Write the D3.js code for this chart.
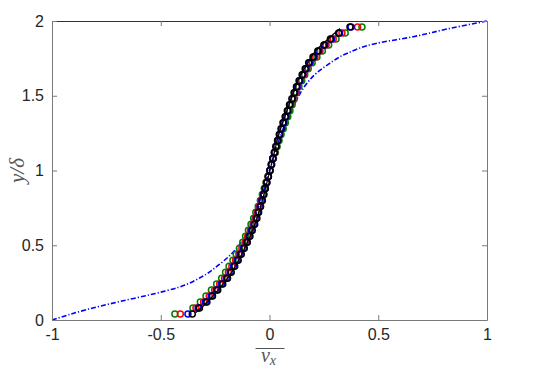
<!DOCTYPE html>
<html>
<head>
<meta charset="utf-8">
<script src="https://cdn.jsdelivr.net/npm/d3@7"></script>
<style>
  body { margin: 0; background: #fff; }
  svg { display: block; }
</style>
</head>
<body>
<div id="chart"></div>
<script>
// row heights shared by the four marker series
var yLevels = [0.04, 0.08, 0.12, 0.16, 0.20, 0.24, 0.28, 0.32, 0.36, 0.40,
  0.44, 0.48, 0.52, 0.56, 0.60, 0.64, 0.68, 0.72, 0.76, 0.80,
  0.84, 0.88, 0.92, 0.96, 1.00, 1.04, 1.08, 1.12, 1.16, 1.20,
  1.24, 1.28, 1.32, 1.36, 1.40, 1.44, 1.48, 1.52, 1.56, 1.60,
  1.64, 1.68, 1.72, 1.76, 1.80, 1.84, 1.88, 1.92, 1.96];

var greenX = [-0.435, -0.352, -0.318, -0.292, -0.267, -0.243, -0.220, -0.202, -0.186, -0.168,
  -0.153, -0.138, -0.123, -0.110, -0.097, -0.085, -0.073, -0.063, -0.052, -0.042,
  -0.033, -0.024, -0.016, -0.007, 0.002, 0.010, 0.018, 0.027, 0.035, 0.044,
  0.053, 0.063, 0.073, 0.084, 0.094, 0.104, 0.114, 0.124, 0.135, 0.148,
  0.162, 0.178, 0.196, 0.218, 0.243, 0.272, 0.306, 0.348, 0.425];

var redX = [-0.410, -0.338, -0.303, -0.277, -0.252, -0.229, -0.207, -0.189, -0.173, -0.156,
  -0.141, -0.127, -0.112, -0.100, -0.088, -0.076, -0.066, -0.056, -0.046, -0.037,
  -0.029, -0.021, -0.014, -0.006, 0.002, 0.009, 0.016, 0.024, 0.032, 0.040,
  0.049, 0.058, 0.067, 0.078, 0.087, 0.097, 0.108, 0.118, 0.129, 0.142,
  0.156, 0.171, 0.188, 0.209, 0.232, 0.260, 0.293, 0.333, 0.405];

var blueX = [-0.375, -0.328, -0.295, -0.268, -0.244, -0.221, -0.199, -0.181, -0.165, -0.149,
  -0.135, -0.120, -0.106, -0.094, -0.082, -0.071, -0.061, -0.052, -0.043, -0.035,
  -0.027, -0.020, -0.013, -0.005, 0.002, 0.009, 0.016, 0.023, 0.031, 0.039,
  0.047, 0.056, 0.065, 0.075, 0.085, 0.095, 0.106, 0.116, 0.127, 0.139,
  0.153, 0.168, 0.184, 0.204, 0.226, 0.254, 0.285, 0.322, 0.375];

var blackX = [-0.355, -0.322, -0.288, -0.262, -0.238, -0.215, -0.193, -0.176, -0.160, -0.144,
  -0.130, -0.116, -0.102, -0.090, -0.079, -0.068, -0.058, -0.050, -0.041, -0.033,
  -0.026, -0.019, -0.012, -0.005, 0.002, 0.008, 0.015, 0.022, 0.029, 0.037,
  0.045, 0.053, 0.062, 0.072, 0.082, 0.092, 0.103, 0.113, 0.124, 0.136,
  0.150, 0.164, 0.180, 0.200, 0.222, 0.250, 0.280, 0.318, 0.370];

// solid black reference line
var lineY = [0.05, 0.10, 0.20, 0.30, 0.40, 0.50, 0.60, 0.70, 0.80, 0.90, 1.00,
  1.10, 1.20, 1.30, 1.40, 1.50, 1.60, 1.70, 1.80, 1.90, 1.95];
var lineX = [-0.338, -0.300, -0.236, -0.183, -0.142, -0.108, -0.078, -0.053, -0.033, -0.015, 0.002,
  0.019, 0.035, 0.056, 0.080, 0.105, 0.130, 0.168, 0.212, 0.285, 0.324];

// blue dash-dot curve
var curveX = [-1, -0.847, -0.693, -0.540, -0.418, -0.310, -0.234, -0.172, -0.140, -0.100,
  -0.065, -0.030, 0, 0.028, 0.052, 0.082, 0.110, 0.135, 0.165, 0.215, 0.270, 0.355, 0.490, 0.661, 0.815, 1];
var curveY = [0, 0.067, 0.122, 0.172, 0.219, 0.290, 0.368, 0.446, 0.500, 0.590,
  0.700, 0.850, 1.000, 1.130, 1.240, 1.340, 1.430, 1.500, 1.570, 1.650, 1.710, 1.783, 1.850, 1.895, 1.946, 2];

var xTicks = [-1, -0.5, 0, 0.5, 1];
var yTicks = [0, 0.5, 1, 1.5, 2];

var W = 540, H = 373;
var plot = {left: 52, right: 487, top: 21, bottom: 320};

var x = d3.scaleLinear().domain([-1, 1]).range([plot.left, plot.right]);
var y = d3.scaleLinear().domain([0, 2]).range([plot.bottom, plot.top]);

var svg = d3.select('#chart').append('svg')
    .attr('width', W)
    .attr('height', H);

var axisColor = '#262626';
var fmt = function(d) { return d3.format('')(d).replace('\u2212', '-'); };

var line = d3.line()
    .x(function(d) { return x(d[0]); })
    .y(function(d) { return y(d[1]); })
    .curve(d3.curveMonotoneY);

// blue curve
svg.append('path')
    .datum(d3.zip(curveX, curveY))
    .attr('d', line)
    .attr('fill', 'none')
    .attr('stroke', '#0000ff')
    .attr('stroke-width', 1.6)
    .attr('stroke-dasharray', '5,2,1.2,2');

// markers
var series = [
  {xs: greenX, color: '#008000'},
  {xs: redX, color: '#ff0000'},
  {xs: blueX, color: '#0000ff'},
  {xs: blackX, color: '#000000'}
];

series.forEach(function(s) {
  svg.append('g').selectAll('circle')
      .data(d3.zip(s.xs, yLevels))
    .enter().append('circle')
      .attr('cx', function(d) { return x(d[0]); })
      .attr('cy', function(d) { return y(d[1]); })
      .attr('r', 3)
      .attr('fill', 'none')
      .attr('stroke', s.color)
      .attr('stroke-width', 1.5);
});

svg.append('path')
    .datum(d3.zip(lineX, lineY))
    .attr('d', line)
    .attr('fill', 'none')
    .attr('stroke', '#000')
    .attr('stroke-width', 1.2);

// axes
var axB = svg.append('g').attr('transform', 'translate(0,' + plot.bottom + ')')
    .call(d3.axisBottom(x).tickValues(xTicks).tickSizeInner(-5).tickSizeOuter(0).tickPadding(9).tickFormat(fmt));
var axT = svg.append('g').attr('transform', 'translate(0,' + plot.top + ')')
    .call(d3.axisTop(x).tickValues(xTicks).tickSizeInner(-5).tickSizeOuter(0).tickFormat(''));
var axL = svg.append('g').attr('transform', 'translate(' + plot.left + ',0)')
    .call(d3.axisLeft(y).tickValues(yTicks).tickSizeInner(-5).tickSizeOuter(0).tickPadding(8).tickFormat(fmt));
var axR = svg.append('g').attr('transform', 'translate(' + plot.right + ',0)')
    .call(d3.axisRight(y).tickValues(yTicks).tickSizeInner(-5).tickSizeOuter(0).tickFormat(''));

[axB, axT, axL, axR].forEach(function(a) {
  a.select('.domain').attr('stroke', '#7a7a7a').attr('stroke-width', 1);
  a.selectAll('.tick line').attr('stroke', '#7a7a7a').attr('stroke-width', 1);
  a.selectAll('.tick text')
      .attr('fill', axisColor)
      .style('font', '16px "Liberation Sans", Arial, sans-serif');
});
axT.select('.domain').attr('stroke', '#333');

// axis labels
svg.append('text')
    .attr('transform', 'translate(24,' + ((plot.top + plot.bottom) / 2) + ') rotate(-90)')
    .attr('text-anchor', 'middle')
    .attr('fill', '#555')
    .style('font', 'italic 21px "Liberation Serif", "DejaVu Serif", serif')
    .text('y/δ');

var xl = svg.append('text')
    .attr('x', (plot.left + plot.right) / 2 - 1)
    .attr('y', 362)
    .attr('text-anchor', 'middle')
    .attr('fill', '#555')
    .style('font', 'italic 20px "Liberation Serif", serif');
xl.append('tspan').text('v');
xl.append('tspan').attr('dy', 3).style('font-size', '14px').text('x');

svg.append('line')
    .attr('x1', (plot.left + plot.right) / 2 - 14)
    .attr('x2', (plot.left + plot.right) / 2 + 15)
    .attr('y1', 348.5)
    .attr('y2', 348.5)
    .attr('stroke', '#555')
    .attr('stroke-width', 1);
</script>
</body>
</html>
